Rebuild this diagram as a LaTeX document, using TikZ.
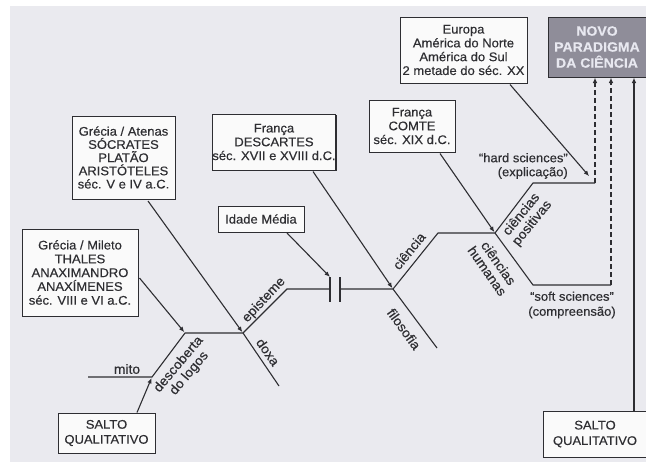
\documentclass[tikz,border=0pt]{standalone}
\usepackage{fontspec}
\setmainfont{Liberation Sans}[FakeStretch=1.04,FakeBold=0.35]
\usetikzlibrary{arrows.meta,calc,shadows}
\definecolor{bg}{HTML}{EAEAEF}
\definecolor{ink}{HTML}{2E2E32}
\definecolor{boxfill}{HTML}{FAFAFA}
\definecolor{novofill}{HTML}{8F8D99}
\definecolor{novotext}{HTML}{E8E8F0}
\begin{document}
\begin{tikzpicture}[x=1pt,y=-1pt,
  every node/.style={text=ink, font=\fontsize{12.5}{13.8}\selectfont},
  box/.style={draw=ink, line width=1pt, fill=boxfill, align=center, inner sep=0pt,
    drop shadow={shadow xshift=1.3pt,shadow yshift=-1.3pt,fill=ink,opacity=1}},
  ln/.style={draw=ink, line width=1.1pt},
  arr/.style={ln, -{Latex[length=5.5pt,width=4.5pt]}},
  dsh/.style={arr, dash pattern=on 5pt off 3pt},
  lbl/.style={font=\fontsize{13.3}{13.8}\selectfont, align=center, inner sep=0pt},
]
\useasboundingbox (0,0) rectangle (646,464);
\fill[bg] (10,6) rectangle (646,462);

% boxes
\node[box, minimum width=103pt, minimum height=83pt, font=\fontsize{12.5}{13.2}\selectfont] (atenas) at (123.5,157.5)
  {Grécia / Atenas\\SÓCRATES\\PLATÃO\\ARISTÓTELES\\séc. V e IV a.C.};
\node[box, minimum width=122pt, minimum height=56pt] (descartes) at (274,142)
  {França\\DESCARTES\\séc. XVII e XVIII d.C.};
\node[box, minimum width=86pt, minimum height=26pt] (idade) at (261,219) {Idade Média};
\node[box, minimum width=116pt, minimum height=87pt] (mileto) at (80,272.5)
  {Grécia / Mileto\\THALES\\ANAXIMANDRO\\ANAXÍMENES\\séc. VIII e VI a.C.};
\node[box, minimum width=97pt, minimum height=40pt, font=\fontsize{12.5}{15}\selectfont] (salto1) at (106.5,433)
  {SALTO\\QUALITATIVO};
\node[box, minimum width=127pt, minimum height=66pt] (europa) at (463.5,50)
  {Europa\\América do Norte\\América do Sul\\2 metade do séc. XX};
\node[box, fill=novofill, text=novotext, minimum width=98pt, minimum height=60pt,
  font=\bfseries\fontsize{13.5}{16}\selectfont] (novo) at (597,47)
  {NOVO\\PARADIGMA\\DA CIÊNCIA};
\node[box, minimum width=86pt, minimum height=52pt] (comte) at (412,126)
  {França\\COMTE\\séc. XIX d.C.};
\node[box, minimum width=103pt, minimum height=46pt, font=\fontsize{12.5}{15.5}\selectfont] (salto2) at (595,434)
  {SALTO\\QUALITATIVO};

% skeleton points
\coordinate (m0) at (88,377);
\coordinate (m1) at (152,377);
\coordinate (j1) at (185,333);
\coordinate (j2) at (243,333);
\coordinate (e1) at (287,289);
\coordinate (k1) at (330,289);
\coordinate (k2) at (340,289);
\coordinate (k1t) at (330,277);
\coordinate (k1b) at (330,302);
\coordinate (k2t) at (340,277);
\coordinate (k2b) at (340,302);
\coordinate (j3) at (393,289);
\coordinate (dx) at (279,386);
\coordinate (c1) at (438,233);
\coordinate (fe) at (437,348);
\coordinate (j4) at (495,233);
\coordinate (p1) at (533,183);
\coordinate (p2) at (595,183);
\coordinate (h1) at (533,285);
\coordinate (h2) at (611,285);
\coordinate (xs) at (634,0);

% skeleton lines
\draw[ln] (m0) -- (m1) -- (j1) -- (j2) -- (e1) -- (k1);
\draw[ln] (k1t) -- (k1b);
\draw[ln] (k2t) -- (k2b);
\draw[ln] (k2) -- (j3) -- (c1) -- (j4) -- (p1) -- (p2);
\draw[ln] (j2) -- (dx);
\draw[ln] (j3) -- (fe);
\draw[ln] (j4) -- (h1) -- (h2);

% arrows from boxes
\draw[arr, shorten >=1pt] ($(salto1.north)+(30.5,0)$) -- (m1);
\draw[arr, shorten >=1pt] ($(mileto.east)+(1,5.5)$) -- (j1);
\draw[arr, shorten >=1pt] ($(atenas.south)+(24.5,1.5)$) -- (j2);
\draw[arr] ($(idade.south)+(26,0.5)$) -- (k1t);
\draw[arr, shorten >=1pt] ($(descartes.south)+(39,1)$) -- (j3);
\draw[arr, shorten >=1pt] ($(comte.south)+(28,1)$) -- (j4);
\draw[arr, shorten >=9pt] ($(europa.south)+(46.5,1)$) -- (p2);

% to new paradigm
\draw[dsh] (p2) -- (novo.south -| p2);
\draw[dsh] (h2) -- (novo.south -| h2);
\draw[arr] (salto2.north -| xs) -- (novo.south -| xs);

% labels
\node[lbl] (lmito) at (127,369) {mito};
\node[lbl, rotate=50] (ldesc) at (184,369) {descoberta\\do logos};
\node[lbl, rotate=47] (lepi) at (264,300) {episteme};
\node[lbl, rotate=-55] (ldoxa) at (268,352) {doxa};
\node[lbl, rotate=51] (lcie) at (409,251) {ciência};
\node[lbl, rotate=-54] (lfil) at (404,329) {filosofia};
\node[lbl, rotate=51] (lpos) at (527,219) {ciências\\positivas};
\node[lbl, rotate=-55] (lhum) at (493,267) {ciências\\humanas};
\node[lbl, align=right, anchor=east, font=\fontsize{12.5}{14}\selectfont] (lhard) at (568,166)
  {“hard sciences”\\(explicação)};
\node[lbl, font=\fontsize{12.5}{15}\selectfont] (lsoft) at (572,305)
  {“soft sciences”\\(compreensão)};
\end{tikzpicture}
\end{document}
